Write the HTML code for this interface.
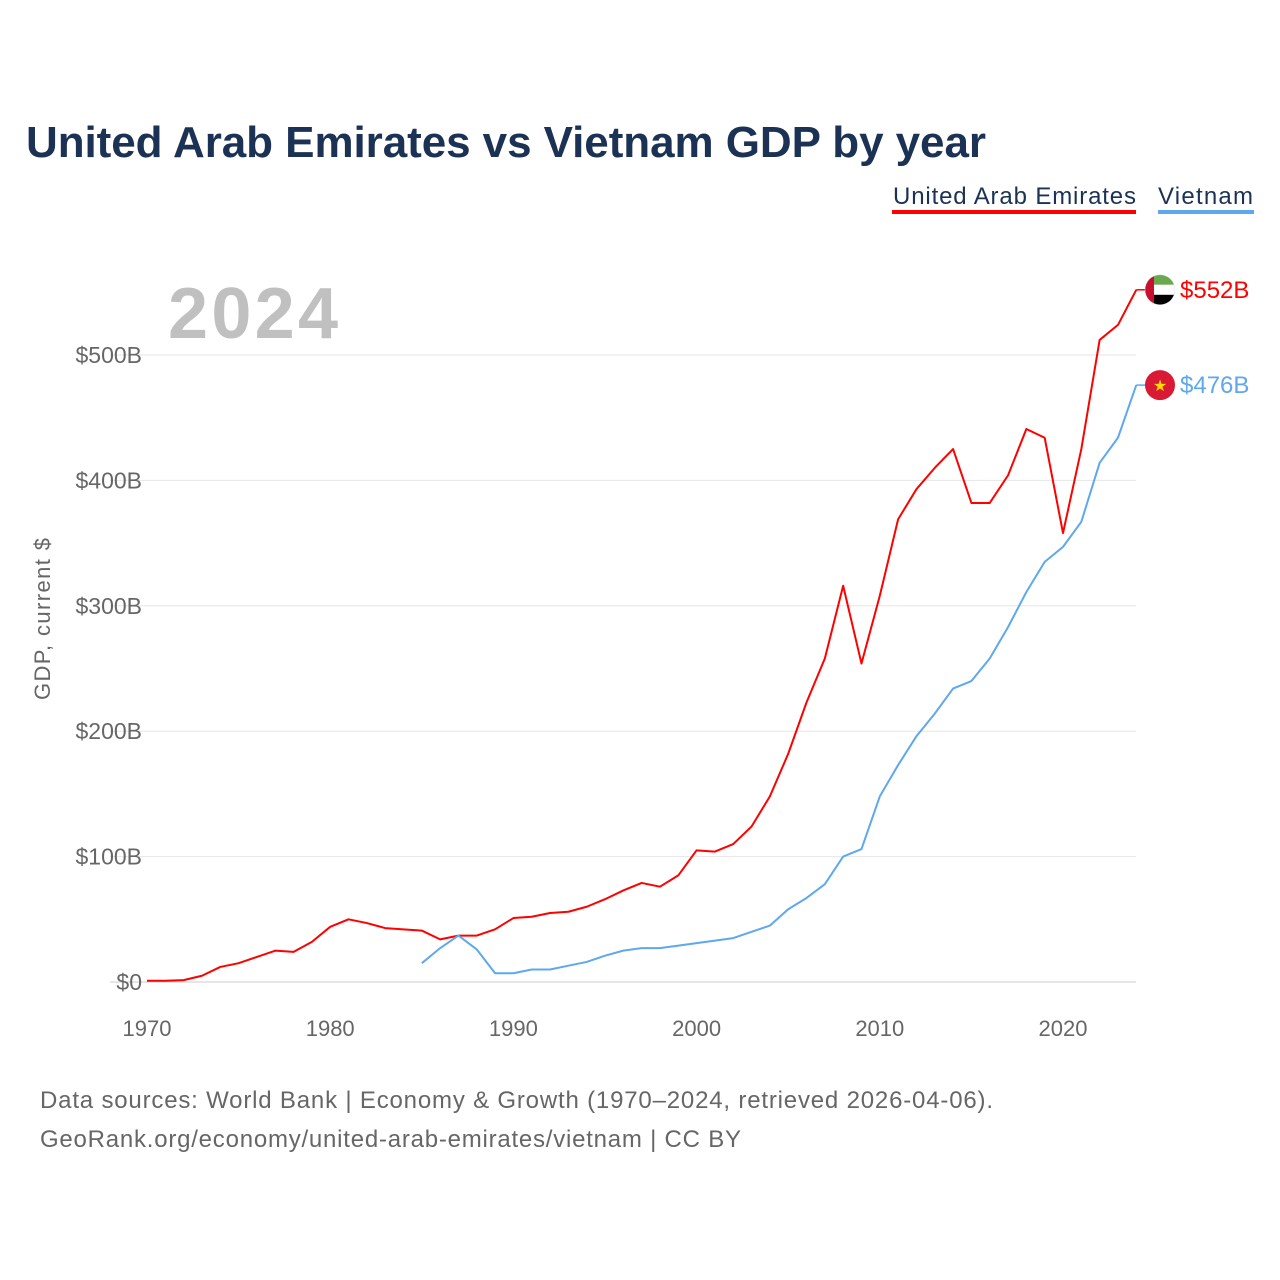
<!DOCTYPE html>
<html><head><meta charset="utf-8"><style>
body{margin:0;background:#fff;}
svg{display:block;font-family:"Liberation Sans",sans-serif;}
</style></head><body>
<svg width="1280" height="1280" viewBox="0 0 1280 1280" id="chart">
<text x="26" y="157" font-size="44" font-weight="bold" fill="#1b3254" textLength="960">United Arab Emirates vs Vietnam GDP by year</text>
<g>
<text x="893" y="204" font-size="24" fill="#1b3254" textLength="243">United Arab Emirates</text>
<rect x="892" y="210" width="244" height="4" fill="#ff0000"/>
<text x="1158" y="204" font-size="24" fill="#1b3254" textLength="95">Vietnam</text>
<rect x="1158" y="210" width="96" height="4" fill="#5ea8ee"/>
</g>
<text x="168" y="338" font-size="72" font-weight="bold" fill="#c0c0c0" textLength="170">2024</text>
<g id="grid"></g>
<g id="xaxis"></g>
<text transform="translate(50,619) rotate(-90)" font-size="22" fill="#666" text-anchor="middle" textLength="162">GDP, current $</text>
<g id="series"></g>
<g id="ends"></g>
<text x="40" y="1108" font-size="24" fill="#666" textLength="953">Data sources: World Bank | Economy &amp; Growth (1970–2024, retrieved 2026-04-06).</text>
<text x="40" y="1147" font-size="24" fill="#666" textLength="701">GeoRank.org/economy/united-arab-emirates/vietnam | CC BY</text>
</svg>
<script>
const uaeYears=[1970,1971,1972,1973,1974,1975,1976,1977,1978,1979,1980,1981,1982,1983,1984,1985,1986,1987,1988,1989,1990,1991,1992,1993,1994,1995,1996,1997,1998,1999,2000,2001,2002,2003,2004,2005,2006,2007,2008,2009,2010,2011,2012,2013,2014,2015,2016,2017,2018,2019,2020,2021,2022,2023,2024];
const uaeValues=[1,1,1.5,5,12,15,20,25,24,32,44,50,47,43,42,41,34,37,37,42,51,52,55,56,60,66,73,79,76,85,105,104,110,124,148,182,223,258,316,254,308,369,393,410,425,382,382,404,441,434,358,425,512,524,552];
const vnYears=[1985,1986,1987,1988,1989,1990,1991,1992,1993,1994,1995,1996,1997,1998,1999,2000,2001,2002,2003,2004,2005,2006,2007,2008,2009,2010,2011,2012,2013,2014,2015,2016,2017,2018,2019,2020,2021,2022,2023,2024];
const vnValues=[15,27,37,26,7,7,10,10,13,16,21,25,27,27,29,31,33,35,40,45,58,67,78,100,106,148,173,196,214,234,240,258,283,311,335,347,367,414,434,476];
const yTicks=[0,100,200,300,400,500];
const yTickLabels=["$0","$100B","$200B","$300B","$400B","$500B"];
const xTicks=[1970,1980,1990,2000,2010,2020];
const NS="http://www.w3.org/2000/svg";
const X=y=>147+(y-1970)*(916/50);
const Y=v=>982-v*1.254;
function mk(t,a,p){const e=document.createElementNS(NS,t);for(const k in a)e.setAttribute(k,a[k]);p.appendChild(e);return e;}
const grid=document.getElementById('grid');
yTicks.forEach((v,i)=>{
 const l=mk('line',{x1:110,x2:1136,y1:Y(v),y2:Y(v),stroke:v===0?'#ccc':'#e6e6e6','stroke-width':1},grid);
 
 
 const t=mk('text',{x:142,y:Y(v)+8,'font-size':23,fill:'#666','text-anchor':'end'},grid);
 t.textContent=yTickLabels[i];
 
 
});
const xa=document.getElementById('xaxis');
xTicks.forEach(y=>{
 const t=mk('text',{x:X(y),y:1036,'font-size':22,fill:'#666','text-anchor':'middle'},xa);
 t.textContent=y;
 
 
});
const s=document.getElementById('series');
function line(ys,vs,c,name){
 const p=mk('polyline',{points:ys.map((y,i)=>X(y)+','+Y(vs[i])).join(' '),fill:'none',stroke:c,'stroke-width':2,'stroke-linejoin':'round'},s);
 
 
}
line(uaeYears,uaeValues,'#ff0000','uae-line');
line(vnYears,vnValues,'#5ea8ee','vietnam-line');
const e=document.getElementById('ends');
const uLast=uaeValues[uaeValues.length-1], vLast=vnValues[vnValues.length-1];
const uy=Y(uLast), vy=Y(vLast), ex=X(2024);
mk('line',{x1:ex,x2:1148,y1:uy,y2:uy,stroke:'#ff0000','stroke-width':1.5},e);
mk('line',{x1:ex,x2:1148,y1:vy,y2:vy,stroke:'#5ea8ee','stroke-width':1.5},e);
const fu=mk('g',{},e);


mk('clipPath',{id:'cu'},fu).appendChild(document.createElementNS(NS,'circle'));
const cc=fu.querySelector('circle');cc.setAttribute('cx',1160);cc.setAttribute('cy',uy);cc.setAttribute('r',15);
const gu=mk('g',{'clip-path':'url(#cu)'},fu);
mk('rect',{x:1145,y:uy-15,width:30,height:10,fill:'#6aa84f'},gu);
mk('rect',{x:1145,y:uy-5,width:30,height:10,fill:'#fff'},gu);
mk('rect',{x:1145,y:uy+5,width:30,height:10,fill:'#000'},gu);
mk('rect',{x:1145,y:uy-15,width:9,height:30,fill:'#c8102e'},gu);
mk('circle',{cx:1160,cy:uy,r:15,fill:'none',stroke:'#ddd','stroke-width':0.5},fu);
const fv=mk('g',{},e);


mk('circle',{cx:1160,cy:vy,r:15,fill:'#da1a35'},fv);
const st=mk('text',{x:1160,y:vy+6,'font-size':16,fill:'#ffdd00','text-anchor':'middle'},fv);st.textContent='★';
const tu=mk('text',{x:1180,y:uy+8,'font-size':24,fill:'#ff0000'},e);
tu.textContent='$'+uLast+'B';


const tv=mk('text',{x:1180,y:vy+8,'font-size':24,fill:'#5ea8ee'},e);
tv.textContent='$'+vLast+'B';


</script>
</body></html>
